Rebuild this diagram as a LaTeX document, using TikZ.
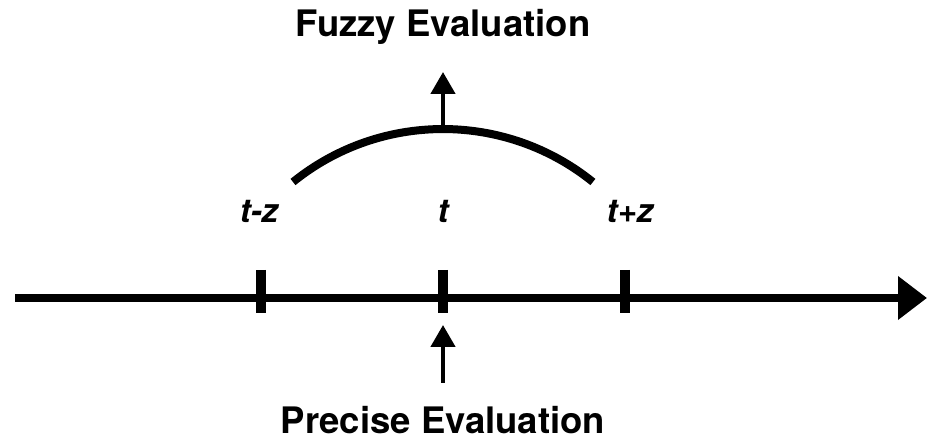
\documentclass[tikz,border=0pt]{standalone}
\usepackage{fontspec}
\setmainfont{TeX Gyre Heros}
\usetikzlibrary{arrows.meta}
\tikzset{
  axisline/.style={line width=8.5pt, -{Triangle[length=29pt,width=42pt]}},
  tickmark/.style={line width=9.5pt},
  arcline/.style={line width=8pt},
  evalarrow/.style={line width=4.5pt, -{Triangle[length=22pt,width=24pt]}},
  ticklabel/.style={font=\fontsize{33}{33}\selectfont\bfseries\itshape, anchor=base, inner sep=0pt},
  title/.style={font=\fontsize{36.5}{36.5}\selectfont\bfseries, anchor=base, inner sep=0pt}
}
\begin{document}
\begin{tikzpicture}[x=1pt,y=1pt]
\useasboundingbox (0,0) rectangle (927,443);
% axis
\coordinate (axL) at (15,145);
\coordinate (axR) at (927,145);
\draw[axisline] (axL) -- (axR);
% ticks
\foreach \n/\xx in {a/261,b/443,c/625}{
  \coordinate (tt\n) at (\xx,173);
  \coordinate (tb\n) at (\xx,130);
  \draw[tickmark] (tt\n) -- (tb\n);
}
% tick labels
\node[ticklabel] (lz) at (259,220) {t-z};
\node[ticklabel] (lt) at (443,220) {t};
\node[ticklabel] (lp) at (630,220) {t+z};
% arc
\coordinate (arcL) at (293,261);
\coordinate (arcTop) at (443,314);
\draw[arcline] (arcL) arc[start angle=128.9, end angle=51.1, radius=238.8];
% fuzzy arrow and label
\coordinate (fuzzyTip) at (443,371);
\draw[evalarrow] (arcTop) -- (fuzzyTip);
\node[title] (fuzzy) at (443,406) {Fuzzy Evaluation};
% precise arrow and label
\coordinate (precBase) at (443,60);
\coordinate (precTip) at (443,118);
\draw[evalarrow] (precBase) -- (precTip);
\node[title] (precise) at (443,9) {Precise Evaluation};
\end{tikzpicture}
\end{document}
